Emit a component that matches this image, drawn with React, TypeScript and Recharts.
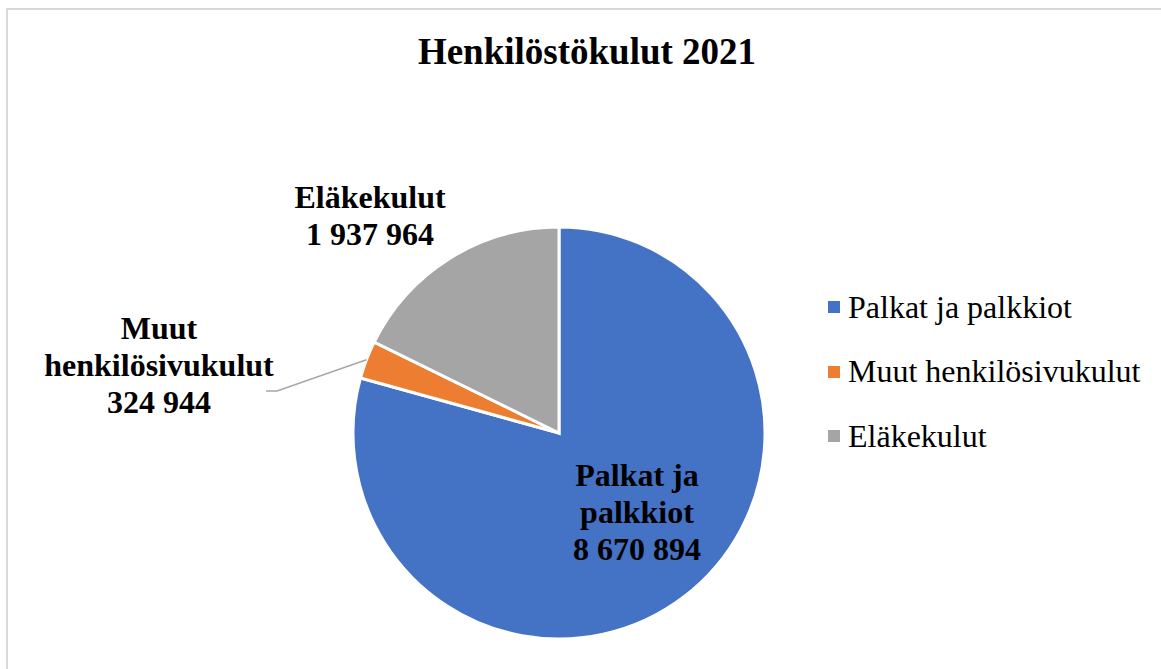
import React from "react";
import { PieChart, Pie, Cell, Legend } from "recharts";

const categories = ["Palkat ja palkkiot", "Muut henkilösivukulut", "Eläkekulut"];
const values = [8670894, 324944, 1937964];
const colors = ["#4472C4", "#ED7D31", "#A5A5A5"];
// label text lines shown on the chart for each slice
const labelLines = [
  ["Palkat ja", "palkkiot", "8 670 894"],
  ["Muut", "henkilösivukulut", "324 944"],
  ["Eläkekulut", "1 937 964"],
];
// label placement relative to the pie centre
const labelOffsets = [
  { dx: 78, dy: 42 },
  { dx: -400, dy: -105 },
  { dx: -189, dy: -236 },
];
const LINE_H = 37;

const data = categories.map((name, i) => ({ name, value: values[i] }));
const FONT = "Liberation Serif, Times New Roman, DejaVu Serif, serif";
const RAD = Math.PI / 180;

const renderLabel = (props: any) => {
  const { cx, cy, index } = props;
  const off = labelOffsets[index];
  const x = cx + off.dx;
  return (
    <text
      x={x}
      y={cy + off.dy}
      textAnchor="middle"
      dominantBaseline="central"
      style={{ fontFamily: FONT, fontWeight: "bold", fontSize: 32 }}
      fill="#000"
    >
      {labelLines[index].map((t, j) => (
        <tspan key={j} x={x} y={cy + off.dy + j * LINE_H}>
          {t}
        </tspan>
      ))}
    </text>
  );
};

const renderLabelLine = (props: any) => {
  const { cx, cy, midAngle, outerRadius, index } = props;
  if (index !== 1) return <g />;
  const sx = cx + outerRadius * Math.cos(-midAngle * RAD);
  const sy = cy + outerRadius * Math.sin(-midAngle * RAD);
  const mx = cx - 282;
  const my = cy - 42;
  return (
    <polyline
      points={`${sx},${sy} ${mx},${my} ${mx - 11},${my}`}
      fill="none"
      stroke="#A6A6A6"
      strokeWidth={1.5}
    />
  );
};

const renderLegend = () => (
  <div style={{ fontFamily: FONT, fontSize: 32, color: "#000" }}>
    {categories.map((name, i) => (
      <div key={name} style={{ display: "flex", alignItems: "center", height: 64.5 }}>
        <span
          style={{
            display: "inline-block",
            width: 12,
            height: 12,
            background: colors[i],
            marginRight: 8,
          }}
        />
        <span style={{ whiteSpace: "nowrap" }}>{name}</span>
      </div>
    ))}
  </div>
);

export default function App() {
  return (
    <div
      style={{
        position: "absolute",
        left: 0,
        top: 0,
        width: 1161,
        height: 669,
        overflow: "hidden",
        background: "#fff",
        fontFamily: FONT,
      }}
    >
      <div
        style={{
          position: "absolute",
          left: 6,
          top: 8,
          width: 1170,
          height: 680,
          border: "2px solid #D9D9D9",
        }}
      />
      <div
        style={{
          position: "absolute",
          left: 7,
          width: 1160,
          top: 28,
          textAlign: "center",
          fontFamily: FONT,
          fontWeight: "bold",
          fontSize: 37,
          lineHeight: "48px",
        }}
      >
        Henkilöstökulut 2021
      </div>
      <PieChart
        width={1161}
        height={669}
        margin={{ top: 0, right: 0, bottom: 0, left: 0 }}
        style={{ position: "absolute", left: 0, top: 0 }}
      >
        <Pie
          data={data}
          dataKey="value"
          nameKey="name"
          cx={559}
          cy={433}
          outerRadius={206}
          startAngle={90}
          endAngle={-270}
          stroke="#fff"
          strokeWidth={3}
          label={renderLabel}
          labelLine={renderLabelLine}
          isAnimationActive={false}
        >
          {data.map((d, i) => (
            <Cell key={d.name} fill={colors[i]} />
          ))}
        </Pie>
        <Legend
          layout="vertical"
          content={renderLegend}
          wrapperStyle={{ position: "absolute", left: 828, top: 275, width: 330 }}
        />
      </PieChart>
    </div>
  );
}
